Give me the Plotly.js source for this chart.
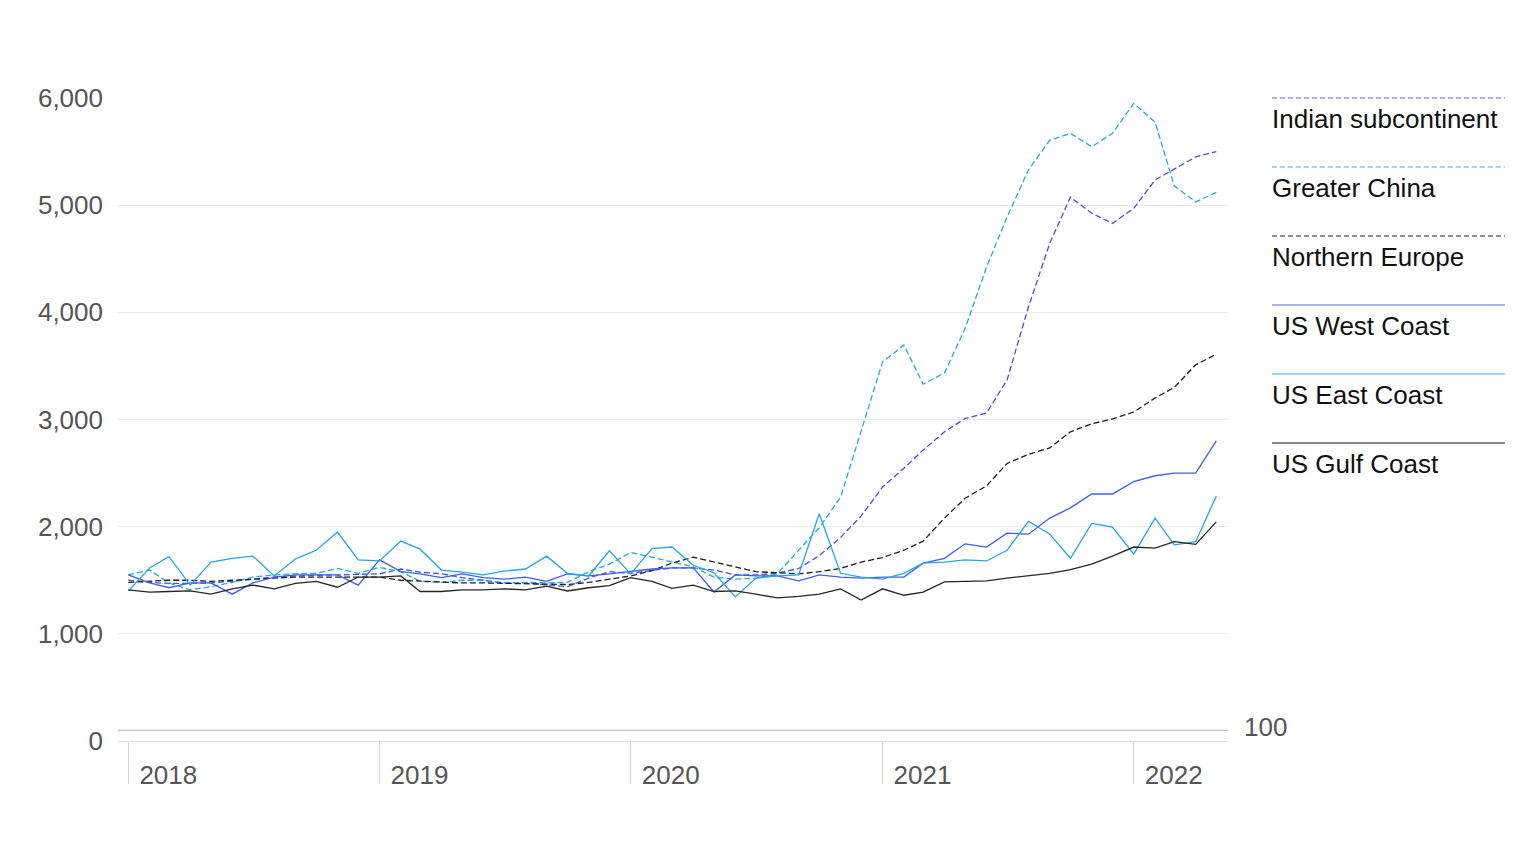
<!DOCTYPE html>
<html>
<head>
<meta charset="utf-8">
<script src="https://cdn.plot.ly/plotly-3.0.1.min.js"></script>
<style>
html,body{margin:0;padding:0;background:#fff;}
#chart{width:1536px;height:864px;}
</style>
</head>
<body>
<div id="chart"></div>
<script>
// Monthly observations, Jan 2018 - May 2022
const months = [];
for (let y = 2018; y <= 2022; y++) {
  for (let m = 1; m <= 12; m++) {
    if (y === 2022 && m > 5) break;
    months.push(y + '-' + String(m).padStart(2, '0') + '-01');
  }
}

const yearTicks = ['2018-01-01', '2019-01-01', '2020-01-01', '2021-01-01', '2022-01-01'];
const yearLabels = ['2018', '2019', '2020', '2021', '2022'];
const yTickVals = [0, 1000, 2000, 3000, 4000, 5000, 6000];
const referenceLevel = 100;

const indianSubcontinent = [1500,1480,1470,1470,1475,1490,1510,1530,1540,1545,1545,1550,1560,1605,1575,1560,1525,1500,1475,1475,1455,1440,1520,1580,1565,1590,1615,1615,1595,1550,1550,1565,1610,1730,1900,2100,2370,2545,2715,2885,3010,3060,3370,4050,4645,5075,4925,4830,4970,5235,5335,5450,5500];
const greaterChina = [1550,1595,1475,1410,1440,1480,1530,1550,1560,1565,1610,1565,1620,1580,1490,1480,1500,1500,1475,1480,1475,1480,1580,1650,1760,1715,1670,1625,1530,1510,1520,1560,1780,1990,2275,2900,3535,3695,3330,3435,3850,4420,4890,5330,5605,5670,5545,5670,5950,5775,5180,5030,5120];
const northernEurope = [1480,1490,1500,1500,1490,1500,1510,1520,1530,1530,1530,1530,1530,1500,1490,1480,1475,1475,1470,1465,1460,1460,1480,1510,1540,1590,1660,1715,1670,1625,1580,1570,1560,1580,1610,1670,1712,1780,1865,2080,2265,2380,2590,2675,2735,2885,2960,3005,3070,3200,3300,3510,3610];
const usWestCoast = [1550,1475,1430,1475,1475,1370,1475,1530,1550,1550,1550,1455,1690,1580,1560,1525,1560,1525,1510,1530,1490,1560,1540,1560,1580,1605,1615,1615,1390,1550,1540,1540,1495,1550,1530,1520,1530,1530,1660,1705,1840,1810,1940,1930,2080,2175,2305,2305,2420,2475,2500,2500,2800];
const usEastCoast = [1400,1615,1720,1455,1670,1705,1725,1540,1700,1780,1950,1690,1680,1865,1790,1595,1575,1550,1585,1605,1725,1565,1540,1775,1560,1795,1810,1640,1570,1345,1520,1540,1550,2120,1565,1530,1510,1565,1660,1670,1690,1680,1780,2050,1930,1705,2030,1995,1745,2080,1830,1860,2285];
const usGulfCoast = [1410,1390,1395,1400,1370,1420,1455,1420,1470,1490,1435,1530,1530,1540,1395,1395,1410,1410,1420,1410,1445,1400,1430,1450,1525,1490,1425,1455,1395,1400,1370,1335,1350,1370,1420,1315,1420,1360,1390,1485,1490,1495,1520,1545,1565,1600,1650,1725,1810,1800,1860,1835,2045];

const seriesNames = ['Indian subcontinent', 'Greater China', 'Northern Europe', 'US West Coast', 'US East Coast', 'US Gulf Coast'];
const seriesValues = [indianSubcontinent, greaterChina, northernEurope, usWestCoast, usEastCoast, usGulfCoast];
const seriesColors = ['#4352d6', '#25a9e0', '#1e1e1e', '#3e5fe6', '#22a8e0', '#262626'];
const legendColors = ['#5a6de6', '#3ab0e8', '#222222', '#4a70e8', '#3ab0ea', '#8a8a8a'];
const seriesDash = ['6px,3px', '6px,3px', '6px,3px', 'solid', 'solid', 'solid'];

const FONT = '"Liberation Sans", Arial, sans-serif';

const traces = seriesNames.map((name, i) => ({
  type: 'scatter',
  mode: 'lines',
  name: name,
  x: months,
  y: seriesValues[i],
  line: {color: seriesColors[i], width: 1.3, dash: seriesDash[i]},
  hoverinfo: 'x+y+name'
}));

// Plot area pixel geometry (for custom legend placement)
const W = 1536, H = 864;
const M = {l: 118, r: 308, t: 98, b: 123};
const plotW = W - M.l - M.r, plotH = H - M.t - M.b;
const px2x = px => (px - M.l) / plotW;
const px2y = py => (H - M.b - py) / plotH;

const shapes = [];
const annotations = [];

// reference line at 100
shapes.push({type: 'line', xref: 'paper', yref: 'y', x0: 0, x1: 1, y0: referenceLevel, y1: referenceLevel,
  line: {color: '#b4b4b4', width: 1}});
annotations.push({xref: 'paper', yref: 'y', x: px2x(1242), y: referenceLevel, xanchor: 'left', yanchor: 'middle',
  yshift: 3, showarrow: false, text: String(referenceLevel), font: {family: FONT, size: 26, color: '#555'}});

// custom legend: line above each label
seriesNames.forEach((name, i) => {
  const ly = 98 + i * 69;
  shapes.push({type: 'line', xref: 'paper', yref: 'paper', x0: px2x(1272), x1: px2x(1505), y0: px2y(ly), y1: px2y(ly),
    line: {color: legendColors[i], width: i === 5 ? 2 : 1.2, dash: i < 3 ? '5px,3px' : 'solid'}});
  annotations.push({xref: 'paper', yref: 'paper', x: px2x(1270), y: px2y(ly + 21), xanchor: 'left', yanchor: 'middle',
    showarrow: false, text: name, font: {family: FONT, size: 26, color: '#111'}});
});

const layout = {
  width: W, height: H,
  margin: M,
  paper_bgcolor: '#fff', plot_bgcolor: '#fff',
  showlegend: false,
  font: {family: FONT, size: 26, color: '#555'},
  xaxis: {
    type: 'date',
    range: ['2017-12-17', '2022-05-18'],
    tickmode: 'array', tickvals: yearTicks, ticktext: yearLabels,
    ticks: 'outside', ticklen: 42, tickwidth: 1, tickcolor: '#d4d4d4',
    ticklabelshift: 40, ticklabelstandoff: -31,
    showgrid: false, zeroline: false, showline: false,
    tickfont: {family: FONT, size: 26, color: '#555'},
    fixedrange: true
  },
  yaxis: {
    range: [0, 6000],
    tickmode: 'array', tickvals: yTickVals,
    tickformat: ',d',
    showgrid: true, gridcolor: '#ebebeb', gridwidth: 1,
    zeroline: true, zerolinecolor: '#e0e0e0', zerolinewidth: 1,
    showline: false, ticks: '',
    ticklabelstandoff: 14,
    tickfont: {family: FONT, size: 26, color: '#555'},
    fixedrange: true
  },
  shapes: shapes,
  annotations: annotations
};

Plotly.newPlot('chart', traces, layout, {displayModeBar: false, responsive: false});
</script>
</body>
</html>
